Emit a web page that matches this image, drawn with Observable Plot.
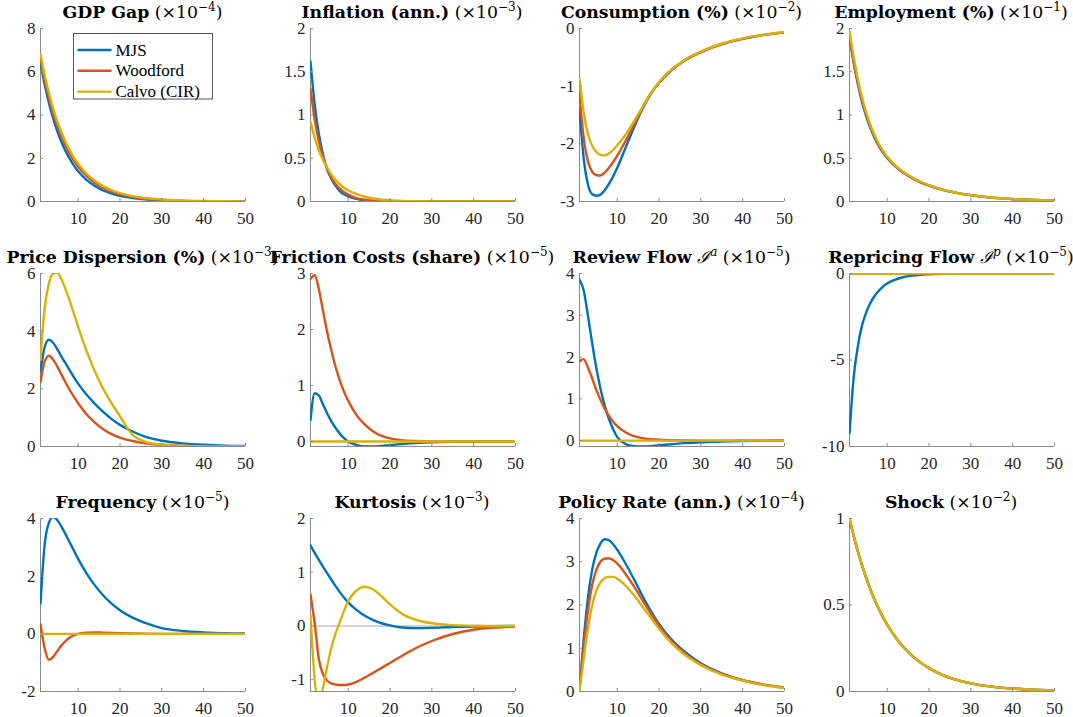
<!DOCTYPE html>
<html>
<head>
<meta charset="utf-8">
<script src="https://cdn.jsdelivr.net/npm/d3@7"></script>
<script src="https://cdn.jsdelivr.net/npm/@observablehq/plot@0.6"></script>
<style>
  html, body { margin: 0; padding: 0; background: #fff; }
  #fig { position: relative; width: 1073px; height: 717px; overflow: hidden; background: #fff; }
  #fig .panel { position: absolute; }
  #fig svg.overlay { position: absolute; left: 0; top: 0; pointer-events: none; }
</style>
</head>
<body>
<div id="fig"></div>
<script>
// Impulse responses to a monetary shock, three pricing models, periods 1..50.
const models = ["MJS", "Woodford", "Calvo (CIR)"];
const modelColors = ["#0072BD", "#D95319", "#D8B20A"];

const periods = [1, 2, 3, 4, 5, 6, 7, 8, 9, 10, 12, 14, 16, 18, 20, 23, 26, 30, 35, 40, 45, 50];
const xTicks = [10, 20, 30, 40, 50];

// GDP gap (x1e-4)
const gdpMJS      = [6.4, 5.41, 4.57, 3.86, 3.26, 2.76, 2.33, 1.97, 1.66, 1.40, 1.00, 0.72, 0.51, 0.37, 0.26, 0.16, 0.10, 0.05, 0.02, 0.01, 0.005, 0];
const gdpWoodford = [6.6, 5.64, 4.82, 4.12, 3.53, 3.02, 2.58, 2.2, 1.88, 1.61, 1.18, 0.86, 0.63, 0.46, 0.34, 0.21, 0.13, 0.07, 0.03, 0.01, 0.005, 0];
const gdpCalvo    = [6.8, 5.85, 5.03, 4.32, 3.72, 3.2, 2.75, 2.37, 2.03, 1.75, 1.29, 0.96, 0.71, 0.52, 0.39, 0.25, 0.16, 0.09, 0.04, 0.02, 0.01, 0];
const gdpTicks = [0, 2, 4, 6, 8];

// Inflation, annualised (x1e-3)
const inflMJS      = [1.62, 1.12, 0.78, 0.54, 0.37, 0.26, 0.18, 0.12, 0.085, 0.06, 0.03, 0.012, 0.005, 0.002, 0.001, 0, 0, 0, 0, 0, 0, 0];
const inflWoodford = [1.3, 0.95, 0.69, 0.51, 0.38, 0.28, 0.2, 0.15, 0.11, 0.08, 0.04, 0.02, 0.01, 0.005, 0.003, 0.001, 0, 0, 0, 0, 0, 0];
const inflCalvo    = [0.92, 0.74, 0.59, 0.48, 0.39, 0.31, 0.25, 0.2, 0.16, 0.13, 0.085, 0.055, 0.035, 0.022, 0.014, 0.007, 0.003, 0.001, 0, 0, 0, 0];
const inflTicks = [0, 0.5, 1, 1.5, 2];

// Consumption, % (x1e-2)
const consMJS      = [-1.4, -2.25, -2.7, -2.87, -2.9, -2.88, -2.81, -2.7, -2.57, -2.42, -2.07, -1.72, -1.4, -1.14, -0.94, -0.72, -0.56, -0.41, -0.27, -0.18, -0.11, -0.07];
const consWoodford = [-1.15, -1.9, -2.3, -2.48, -2.54, -2.55, -2.5, -2.42, -2.32, -2.21, -1.95, -1.67, -1.38, -1.13, -0.94, -0.72, -0.56, -0.41, -0.27, -0.18, -0.11, -0.07];
const consCalvo    = [-0.87, -1.45, -1.82, -2.03, -2.14, -2.19, -2.2, -2.17, -2.11, -2.03, -1.84, -1.61, -1.37, -1.13, -0.93, -0.71, -0.55, -0.4, -0.26, -0.17, -0.11, -0.06];
const consTicks = [-3, -2, -1, 0];

// Employment, % (x1e-1)
const emplMJS      = [1.9, 1.6, 1.355, 1.152, 0.985, 0.848, 0.735, 0.643, 0.566, 0.502, 0.403, 0.328, 0.27, 0.222, 0.184, 0.139, 0.105, 0.072, 0.045, 0.028, 0.018, 0.011];
const emplWoodford = [1.93, 1.631, 1.383, 1.177, 1.006, 0.865, 0.749, 0.654, 0.575, 0.51, 0.409, 0.332, 0.273, 0.225, 0.186, 0.14, 0.106, 0.073, 0.045, 0.028, 0.018, 0.011];
const emplCalvo    = [1.97, 1.67, 1.415, 1.205, 1.03, 0.885, 0.766, 0.668, 0.587, 0.52, 0.416, 0.337, 0.277, 0.228, 0.188, 0.141, 0.107, 0.074, 0.046, 0.029, 0.018, 0.011];
const emplTicks = [0, 0.5, 1, 1.5, 2];

// Price dispersion, % (x1e-3)
const dispMJS      = [2.62, 3.45, 3.7, 3.6, 3.38, 3.12, 2.88, 2.64, 2.4, 2.18, 1.8, 1.48, 1.2, 0.95, 0.75, 0.52, 0.34, 0.2, 0.11, 0.06, 0.03, 0.02];
const dispWoodford = [2.23, 2.95, 3.15, 3.02, 2.78, 2.5, 2.22, 1.96, 1.72, 1.5, 1.12, 0.83, 0.6, 0.43, 0.31, 0.19, 0.11, 0.06, 0.025, 0.01, 0.005, 0];
const dispCalvo    = [3.0, 4.8, 5.65, 6.0, 6.02, 5.8, 5.45, 5.05, 4.6, 4.15, 3.32, 2.6, 2.0, 1.5, 1.05, 0.4, 0.17, 0.06, 0.02, 0.01, 0, 0];
const dispTicks = [0, 2, 4, 6];

// Friction costs, share (x1e-5)
const fricMJS      = [0.38, 0.86, 0.82, 0.66, 0.5, 0.36, 0.24, 0.14, 0.06, 0.0, -0.06, -0.09, -0.09, -0.08, -0.065, -0.045, -0.03, -0.015, -0.007, -0.003, 0, 0];
const fricWoodford = [2.9, 2.97, 2.72, 2.33, 1.95, 1.62, 1.33, 1.09, 0.89, 0.73, 0.47, 0.3, 0.18, 0.1, 0.055, 0.02, 0.008, 0.002, 0, 0, 0, 0];
const fricCalvo    = [0, 0, 0, 0, 0, 0, 0, 0, 0, 0, 0, 0, 0, 0, 0, 0, 0, 0, 0, 0, 0, 0];
const fricTicks = [0, 1, 2, 3];

// Review flow I^a (x1e-5)
const revMJS      = [3.85, 3.6, 3.0, 2.35, 1.75, 1.25, 0.85, 0.53, 0.28, 0.09, -0.08, -0.13, -0.14, -0.13, -0.11, -0.085, -0.06, -0.04, -0.02, -0.01, -0.005, 0];
const revWoodford = [1.9, 1.95, 1.75, 1.5, 1.22, 0.98, 0.77, 0.6, 0.46, 0.35, 0.2, 0.11, 0.06, 0.035, 0.02, 0.01, 0.005, 0, 0, 0, 0, 0];
const revCalvo    = [0, 0, 0, 0, 0, 0, 0, 0, 0, 0, 0, 0, 0, 0, 0, 0, 0, 0, 0, 0, 0, 0];
const revTicks = [0, 1, 2, 3, 4];

// Repricing flow I^p (x1e-5)
const repMJS      = [-9.25, -6.0, -4.2, -3.0, -2.25, -1.7, -1.3, -1.0, -0.76, -0.58, -0.35, -0.2, -0.12, -0.07, -0.045, -0.02, -0.01, -0.005, 0, 0, 0, 0];
const repWoodford = [0, 0, 0, 0, 0, 0, 0, 0, 0, 0, 0, 0, 0, 0, 0, 0, 0, 0, 0, 0, 0, 0];
const repCalvo    = [0, 0, 0, 0, 0, 0, 0, 0, 0, 0, 0, 0, 0, 0, 0, 0, 0, 0, 0, 0, 0, 0];
const repTicks = [-10, -5, 0];

// Frequency (x1e-5)
const freqMJS      = [1.05, 3.1, 3.85, 4.05, 3.95, 3.72, 3.45, 3.17, 2.88, 2.6, 2.1, 1.68, 1.33, 1.05, 0.82, 0.56, 0.38, 0.2, 0.1, 0.05, 0.02, 0.01];
const freqWoodford = [0.33, -0.5, -0.9, -0.8, -0.6, -0.4, -0.25, -0.13, -0.05, 0.0, 0.04, 0.05, 0.04, 0.03, 0.02, 0.01, 0.005, 0, 0, 0, 0, 0];
const freqCalvo    = [0, 0, 0, 0, 0, 0, 0, 0, 0, 0, 0, 0, 0, 0, 0, 0, 0, 0, 0, 0, 0, 0];
const freqTicks = [-2, 0, 2, 4];

// Kurtosis (x1e-3)
const kurtMJS      = [1.5, 1.36, 1.23, 1.1, 0.98, 0.86, 0.74, 0.63, 0.53, 0.44, 0.3, 0.19, 0.11, 0.05, 0.01, -0.03, -0.04, -0.035, -0.02, -0.01, -0.005, 0];
const kurtWoodford = [0.58, 0.05, -0.62, -0.9, -1.02, -1.07, -1.09, -1.1, -1.1, -1.09, -1.04, -0.96, -0.87, -0.78, -0.69, -0.55, -0.42, -0.28, -0.15, -0.07, -0.03, -0.01];
const kurtCalvo    = [0.2, -1.0, -1.45, -1.15, -0.75, -0.4, -0.14, 0.07, 0.28, 0.46, 0.66, 0.73, 0.68, 0.55, 0.4, 0.22, 0.12, 0.05, 0.015, 0.005, 0, 0];
const kurtTicks = [-1, 0, 1, 2];

// Policy rate, annualised (x1e-4)
const polMJS      = [0.05, 1.2, 2.15, 2.8, 3.2, 3.42, 3.52, 3.5, 3.41, 3.28, 2.96, 2.6, 2.22, 1.87, 1.56, 1.2, 0.93, 0.65, 0.42, 0.26, 0.16, 0.09];
const polWoodford = [0.05, 1.0, 1.85, 2.45, 2.8, 3.0, 3.07, 3.08, 3.04, 2.96, 2.72, 2.43, 2.12, 1.81, 1.52, 1.16, 0.9, 0.63, 0.41, 0.26, 0.16, 0.09];
const polCalvo    = [0.03, 0.75, 1.45, 1.98, 2.32, 2.52, 2.62, 2.65, 2.65, 2.61, 2.45, 2.23, 1.97, 1.71, 1.45, 1.12, 0.86, 0.61, 0.39, 0.25, 0.15, 0.08];
const polTicks = [0, 1, 2, 3, 4];

// Shock path (x1e-2), identical across models
const shockPath = [1.0, 0.9, 0.81, 0.729, 0.656, 0.59, 0.531, 0.478, 0.43, 0.387, 0.314, 0.254, 0.206, 0.167, 0.135, 0.098, 0.072, 0.047, 0.028, 0.017, 0.01, 0.006];
const shockTicks = [0, 0.5, 1];

// Panel definitions: title pieces, series per model, y extent and ticks.
const panels = [
  {title: [{t: "GDP Gap", b: 1}, {t: " (×10"}, {t: "−4", s: 1}, {t: ")"}], series: [gdpMJS, gdpWoodford, gdpCalvo], domain: [0, 8], ticks: gdpTicks},
  {title: [{t: "Inflation (ann.)", b: 1}, {t: " (×10"}, {t: "−3", s: 1}, {t: ")"}], series: [inflMJS, inflWoodford, inflCalvo], domain: [0, 2], ticks: inflTicks},
  {title: [{t: "Consumption (%)", b: 1}, {t: " (×10"}, {t: "−2", s: 1}, {t: ")"}], series: [consMJS, consWoodford, consCalvo], domain: [-3, 0], ticks: consTicks},
  {title: [{t: "Employment (%)", b: 1}, {t: " (×10"}, {t: "−1", s: 1}, {t: ")"}], series: [emplMJS, emplWoodford, emplCalvo], domain: [0, 2], ticks: emplTicks},
  {title: [{t: "Price Dispersion (%)", b: 1}, {t: " (×10"}, {t: "−3", s: 1}, {t: ")"}], series: [dispMJS, dispWoodford, dispCalvo], domain: [0, 6], ticks: dispTicks},
  {title: [{t: "Friction Costs (share)", b: 1}, {t: " (×10"}, {t: "−5", s: 1}, {t: ")"}], series: [fricMJS, fricWoodford, fricCalvo], domain: [-0.09, 3], ticks: fricTicks},
  {title: [{t: "Review Flow", b: 1}, {t: " "}, {t: "ℐ", i: 1}, {t: "a", s: 1, i: 1}, {t: " (×10"}, {t: "−5", s: 1}, {t: ")"}], series: [revMJS, revWoodford, revCalvo], domain: [-0.14, 4], ticks: revTicks},
  {title: [{t: "Repricing Flow", b: 1}, {t: " "}, {t: "ℐ", i: 1}, {t: "p", s: 1, i: 1}, {t: " (×10"}, {t: "−5", s: 1}, {t: ")"}], series: [repMJS, repWoodford, repCalvo], domain: [-10, 0], ticks: repTicks},
  {title: [{t: "Frequency", b: 1}, {t: " (×10"}, {t: "−5", s: 1}, {t: ")"}], series: [freqMJS, freqWoodford, freqCalvo], domain: [-2, 4], ticks: freqTicks},
  {title: [{t: "Kurtosis", b: 1}, {t: " (×10"}, {t: "−3", s: 1}, {t: ")"}], series: [kurtMJS, kurtWoodford, kurtCalvo], domain: [-1.22, 2], ticks: kurtTicks},
  {title: [{t: "Policy Rate (ann.)", b: 1}, {t: " (×10"}, {t: "−4", s: 1}, {t: ")"}], series: [polMJS, polWoodford, polCalvo], domain: [0, 4], ticks: polTicks},
  {title: [{t: "Shock", b: 1}, {t: " (×10"}, {t: "−2", s: 1}, {t: ")"}], series: [shockPath, shockPath, shockPath], domain: [0, 1], ticks: shockTicks}
];

// Grid geometry (plot-area corners)
const colLeft = [40, 309.5, 579, 848.5];
const rowTop = [28, 273, 518];
const areaW = 205, areaH = 173;
const m = {left: 40, right: 12, top: 6, bottom: 30};
const axisGray = "#8a8a8a";
const tickFont = "'Liberation Serif', 'Times New Roman', serif";
const titleFont = "'DejaVu Serif', serif";

const fig = document.getElementById("fig");

panels.forEach((p, k) => {
  const col = k % 4, row = Math.floor(k / 4);
  const [y0, y1] = p.domain;
  const marks = [
    Plot.ruleX([1], {stroke: axisGray, strokeWidth: 1}),
    Plot.ruleY([y0], {stroke: axisGray, strokeWidth: 1})
  ];
  if (y0 < 0 && y1 > 0) marks.push(Plot.ruleY([0], {stroke: "#c4c4c4", strokeWidth: 1.5}));
  p.series.forEach((vals, s) => {
    marks.push(Plot.line(periods, {
      x: (d) => d,
      y: (d, i) => vals[i],
      stroke: modelColors[s],
      strokeWidth: 2.4,
      curve: "monotone-x",
      clip: true
    }));
  });
  marks.push(Plot.axisX({ticks: xTicks, tickSize: -3, tickPadding: 13.5, label: null, stroke: axisGray, fill: "#262626", tickFormat: (d) => String(d)}));
  marks.push(Plot.axisY({ticks: p.ticks, tickSize: -3, tickPadding: 8, label: null, stroke: axisGray, fill: "#262626", tickFormat: (d) => String(d)}));

  const chart = Plot.plot({
    width: m.left + areaW + m.right,
    height: m.top + areaH + m.bottom,
    marginLeft: m.left, marginRight: m.right, marginTop: m.top, marginBottom: m.bottom,
    x: {domain: [1, 50]},
    y: {domain: [y0, y1]},
    style: {background: "transparent", fontFamily: tickFont, fontSize: "17px", color: "#262626", overflow: "visible"},
    marks
  });
  chart.classList.add("panel");
  chart.style.left = (colLeft[col] - m.left) + "px";
  chart.style.top = (rowTop[row] - m.top) + "px";
  fig.appendChild(chart);
});

// Titles and legend on a shared overlay
const overlay = d3.select(fig).append("svg")
  .attr("class", "overlay")
  .attr("width", 1073).attr("height", 717);

panels.forEach((p, k) => {
  const col = k % 4, row = Math.floor(k / 4);
  const text = overlay.append("text")
    .attr("x", colLeft[col] + areaW / 2)
    .attr("y", rowTop[row] - 10)
    .attr("text-anchor", "middle")
    .attr("font-family", titleFont)
    .attr("font-size", 17.3)
    .attr("fill", "#000");
  let raised = false;
  for (const piece of p.title) {
    const ts = text.append("tspan").text(piece.t);
    if (piece.b) ts.attr("font-weight", "bold");
    if (piece.i) ts.attr("font-style", "italic");
    if (piece.s) {
      ts.attr("font-size", 12);
      if (!raised) { ts.attr("dy", -7); raised = true; }
    } else if (raised) {
      ts.attr("dy", 7); raised = false;
    }
  }
});

// Legend in the first panel
const lg = overlay.append("g");
lg.append("rect")
  .attr("x", 73.5).attr("y", 33.5).attr("width", 139).attr("height", 65.5)
  .attr("fill", "#fff").attr("stroke", "#555").attr("stroke-width", 1);
models.forEach((name, i) => {
  const yy = 50 + i * 20.8;
  lg.append("line")
    .attr("x1", 77.5).attr("x2", 111.5).attr("y1", yy).attr("y2", yy)
    .attr("stroke", modelColors[i]).attr("stroke-width", 2.4);
  lg.append("text")
    .attr("x", 115.5).attr("y", yy + 5.5)
    .attr("font-family", tickFont).attr("font-size", 17).attr("fill", "#000")
    .text(name);
});
</script>
</body>
</html>
